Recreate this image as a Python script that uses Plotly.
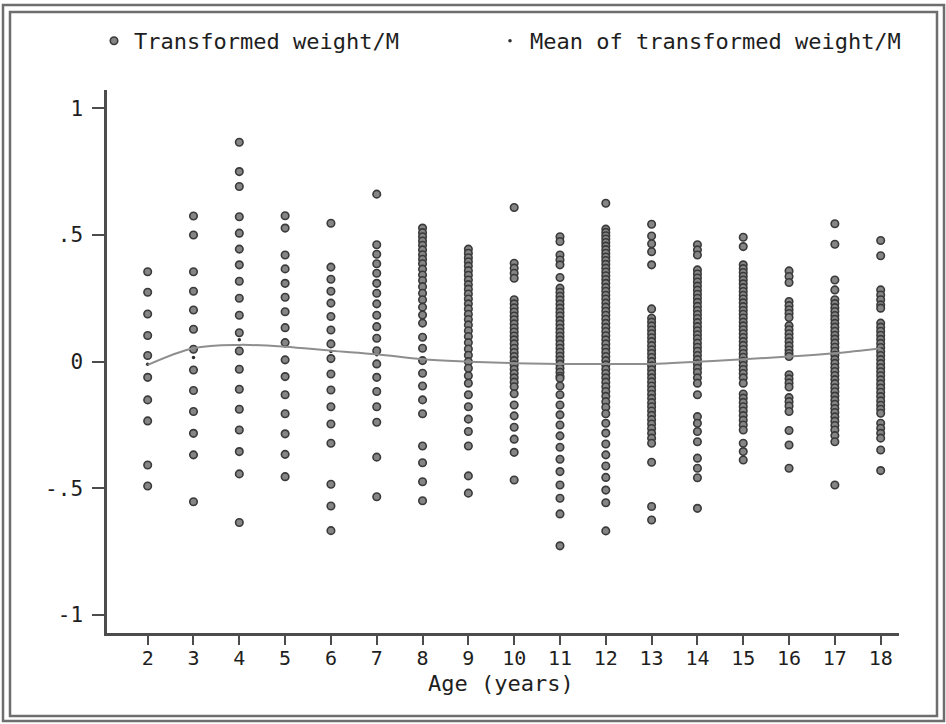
import plotly.graph_objects as go

# Age groups on the x axis
ages = list(range(2, 19))

# Transformed weight/M values, one list per age group
w02 = [0.355, 0.274, 0.188, 0.103, 0.024, -0.062, -0.151, -0.234, -0.408, -0.491]
w03 = [0.575, 0.500, 0.355, 0.278, 0.204, 0.128, 0.049, -0.033, -0.114, -0.197,
       -0.283, -0.368, -0.553]
w04 = [0.866, 0.750, 0.691, 0.572, 0.507, 0.444, 0.382, 0.317, 0.250, 0.183,
       0.114, 0.042, -0.030, -0.109, -0.188, -0.270, -0.355, -0.443, -0.635]
w05 = [0.576, 0.527, 0.421, 0.366, 0.309, 0.254, 0.197, 0.134, 0.075, 0.007,
       -0.059, -0.131, -0.206, -0.285, -0.366, -0.454]
w06 = [0.546, 0.373, 0.325, 0.278, 0.231, 0.178, 0.125, 0.070, 0.012, -0.049,
       -0.112, -0.178, -0.246, -0.322, -0.484, -0.570, -0.667]
w07 = [0.661, 0.461, 0.424, 0.386, 0.349, 0.309, 0.270, 0.228, 0.183, 0.138,
       0.092, 0.043, -0.009, -0.062, -0.118, -0.178, -0.239, -0.377, -0.533]
w08 = [0.527, 0.509, 0.493, 0.476, 0.459, 0.441, 0.422, 0.404, 0.386, 0.365,
       0.342, 0.320, 0.296, 0.270, 0.244, 0.215, 0.184, 0.152, 0.096, 0.053,
       0.004, -0.046, -0.096, -0.151, -0.206, -0.333, -0.399, -0.474, -0.549]
w09 = [0.444, 0.428, 0.410, 0.394, 0.377, 0.359, 0.341, 0.322, 0.304, 0.286,
       0.267, 0.247, 0.228, 0.208, 0.187, 0.166, 0.145, 0.122, 0.099, 0.075,
       0.050, 0.025, 0.000, -0.026, -0.056, -0.085, -0.131, -0.178, -0.227,
       -0.276, -0.333, -0.451, -0.519]
w10 = [0.608, 0.388, 0.369, 0.349, 0.329, 0.244, 0.228, 0.212, 0.196, 0.180,
       0.165, 0.149, 0.133, 0.117, 0.101, 0.086, 0.070, 0.053, 0.036, 0.020,
       0.004, -0.013, -0.030, -0.047, -0.064, -0.081, -0.099, -0.127, -0.171,
       -0.214, -0.259, -0.306, -0.358, -0.467]
w11 = [0.493, 0.474, 0.421, 0.401, 0.382, 0.332, 0.290, 0.274, 0.258, 0.243,
       0.227, 0.211, 0.195, 0.180, 0.163, 0.148, 0.132, 0.116, 0.100, 0.085,
       0.069, 0.053, 0.037, 0.021, 0.006, -0.010, -0.026, -0.042, -0.058,
       -0.066, -0.096, -0.131, -0.171, -0.210, -0.250, -0.293, -0.338, -0.385,
       -0.434, -0.487, -0.539, -0.601, -0.727]
w12 = [0.625, 0.523, 0.510, 0.497, 0.484, 0.470, 0.456, 0.442, 0.428, 0.413,
       0.399, 0.384, 0.369, 0.354, 0.339, 0.324, 0.309, 0.293, 0.278, 0.262,
       0.247, 0.231, 0.215, 0.199, 0.183, 0.167, 0.151, 0.135, 0.119, 0.102,
       0.086, 0.070, 0.053, 0.037, 0.020, 0.004, -0.013, -0.030, -0.047,
       -0.064, -0.081, -0.099, -0.118, -0.137, -0.158, -0.180, -0.206, -0.243,
       -0.282, -0.325, -0.368, -0.412, -0.457, -0.507, -0.557, -0.668]
w13 = [0.542, 0.496, 0.465, 0.434, 0.382, 0.208, 0.171, 0.156, 0.141, 0.125,
       0.110, 0.094, 0.079, 0.063, 0.047, 0.032, 0.016, 0.000, -0.016, -0.032,
       -0.048, -0.064, -0.080, -0.096, -0.112, -0.129, -0.145, -0.162, -0.178,
       -0.195, -0.212, -0.229, -0.246, -0.264, -0.283, -0.302, -0.322, -0.397,
       -0.572, -0.625]
w14 = [0.461, 0.441, 0.421, 0.362, 0.346, 0.330, 0.314, 0.298, 0.282, 0.266,
       0.250, 0.234, 0.218, 0.202, 0.186, 0.170, 0.154, 0.138, 0.122, 0.106,
       0.090, 0.073, 0.057, 0.041, 0.024, 0.008, -0.009, -0.026, -0.043,
       -0.064, -0.085, -0.131, -0.217, -0.243, -0.276, -0.316, -0.381, -0.421,
       -0.458, -0.579]
w15 = [0.491, 0.454, 0.382, 0.367, 0.352, 0.337, 0.322, 0.307, 0.292, 0.277,
       0.262, 0.247, 0.232, 0.217, 0.202, 0.187, 0.172, 0.156, 0.141, 0.126,
       0.110, 0.095, 0.079, 0.064, 0.048, 0.032, 0.017, 0.001, -0.015, -0.031,
       -0.047, -0.064, -0.085, -0.128, -0.144, -0.161, -0.178, -0.195, -0.213,
       -0.231, -0.250, -0.270, -0.322, -0.355, -0.388]
w16 = [0.358, 0.336, 0.312, 0.237, 0.221, 0.205, 0.190, 0.174, 0.142, 0.126,
       0.110, 0.094, 0.078, 0.062, 0.046, 0.032, 0.020, -0.052, -0.068, -0.084,
       -0.100, -0.142, -0.158, -0.175, -0.197, -0.272, -0.329, -0.421]
w17 = [0.544, 0.463, 0.322, 0.283, 0.244, 0.229, 0.213, 0.198, 0.182, 0.167,
       0.151, 0.136, 0.120, 0.104, 0.089, 0.073, 0.057, 0.041, 0.025, 0.009,
       -0.007, -0.023, -0.039, -0.055, -0.071, -0.087, -0.103, -0.119, -0.136,
       -0.152, -0.168, -0.185, -0.201, -0.218, -0.235, -0.252, -0.270, -0.292,
       -0.316, -0.487]
w18 = [0.478, 0.418, 0.283, 0.263, 0.244, 0.224, 0.211, 0.152, 0.136, 0.120,
       0.104, 0.088, 0.072, 0.056, 0.040, 0.024, 0.008, -0.008, -0.024, -0.040,
       -0.056, -0.072, -0.088, -0.104, -0.121, -0.138, -0.155, -0.172, -0.188,
       -0.204, -0.243, -0.263, -0.283, -0.302, -0.349, -0.430]

# Mean of transformed weight/M by age, and its smoothed curve
mean_points = [-0.010, 0.016, 0.086, 0.062, 0.040, 0.027, 0.010, 0.001, -0.006,
               -0.010, -0.008, -0.010, 0.000, 0.010, 0.021, 0.034, 0.052]
mean_curve = [-0.013, 0.053, 0.066, 0.059, 0.043, 0.029, 0.009, 0.000, -0.006,
              -0.009, -0.009, -0.009, 0.000, 0.009, 0.020, 0.033, 0.053]

y_tickvals = [-1, -0.5, 0, 0.5, 1]
y_ticktext = ["-1", "-.5", "0", ".5", "1"]

columns = [w02, w03, w04, w05, w06, w07, w08, w09, w10, w11, w12, w13, w14,
           w15, w16, w17, w18]
xs, ys = [], []
for age, col in zip(ages, columns):
    xs.extend([age] * len(col))
    ys.extend(col)

FONT = "DejaVu Sans Mono"
AXIS = "#4c4c4c"
TEXT = "#1e1e1e"

fig = go.Figure()

fig.add_trace(go.Scatter(
    x=ages, y=mean_points, mode="markers",
    name="Mean of transformed weight/M", legendrank=2,
    marker=dict(size=3.5, color="#2e2e2e"),
))
fig.add_trace(go.Scatter(
    x=xs, y=ys, mode="markers",
    name="Transformed weight/M", legendrank=1, legendwidth=351,
    marker=dict(size=7.5, color="#858585", line=dict(color="#3a3a3a", width=1.6)),
))
fig.add_trace(go.Scatter(
    x=ages, y=mean_curve, mode="lines", showlegend=False, hoverinfo="skip",
    line=dict(color="#8e8e8e", width=2, shape="spline"),
))

# Plot-area margins in pixels; paper coordinates are derived from them
L, R, T, B = 107, 47, 90, 91
PW, PH = 946 - L - R, 724 - T - B


def px_x(p):
    return (p - L) / PW


def px_y(p):
    return (724 - B - p) / PH


# Double frame around the whole figure
shapes = []
for (x0, y0, x1, y1) in [(3, 5, 944, 721), (10, 12, 937, 716)]:
    shapes.append(dict(
        type="rect", xref="paper", yref="paper",
        x0=px_x(x0), x1=px_x(x1), y0=px_y(y1), y1=px_y(y0),
        line=dict(color="#6e6e6e", width=2.5), fillcolor="rgba(0,0,0,0)",
    ))

fig.update_layout(
    width=946, height=724,
    margin=dict(l=L, r=R, t=T, b=B),
    paper_bgcolor="white", plot_bgcolor="white",
    font=dict(family=FONT, color=TEXT),
    shapes=shapes,
    showlegend=True,
    legend=dict(
        orientation="h", x=px_x(94), y=px_y(41),
        xanchor="left", yanchor="middle",
        font=dict(family=FONT, size=22, color=TEXT),
        bgcolor="rgba(0,0,0,0)",
    ),
    annotations=[dict(
        text="Age (years)", xref="paper", yref="paper",
        x=px_x(501), y=px_y(683), xanchor="center", yanchor="middle",
        showarrow=False, font=dict(family=FONT, size=22, color=TEXT),
    )],
    xaxis=dict(
        range=[1.112, 18.40], tickvals=ages,
        showline=True, linecolor=AXIS, linewidth=2.5,
        ticks="outside", ticklen=9, tickwidth=2, tickcolor=AXIS,
        ticklabelstandoff=-4,
        showgrid=False, zeroline=False,
        tickfont=dict(family=FONT, size=20, color=TEXT),
    ),
    yaxis=dict(
        range=[-1.071, 1.072], tickvals=y_tickvals, ticktext=y_ticktext,
        showline=True, linecolor=AXIS, linewidth=2.5,
        ticks="outside", ticklen=12, tickwidth=2, tickcolor=AXIS,
        ticklabelstandoff=5,
        showgrid=False, zeroline=False,
        tickfont=dict(family=FONT, size=21, color=TEXT),
    ),
)

fig.write_html("out.html")
